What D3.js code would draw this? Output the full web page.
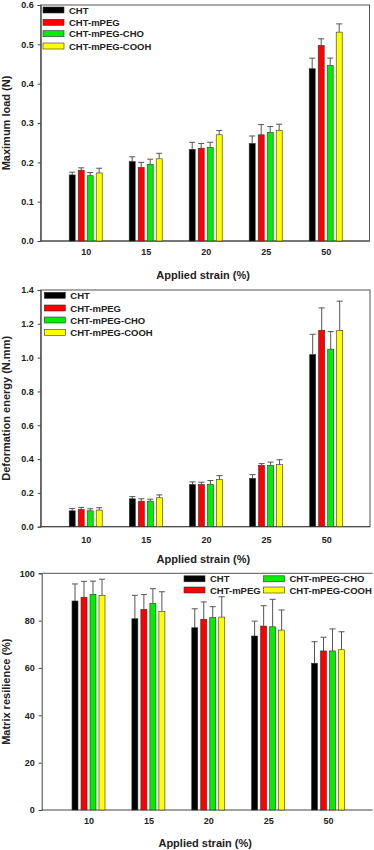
<!DOCTYPE html>
<html>
<head>
<meta charset="utf-8">
<script src="https://cdn.jsdelivr.net/npm/d3@7"></script>
<style>
body { margin: 0; background: #fff; }
svg text { font-family: "Liberation Sans", Arial, sans-serif; font-weight: bold; fill: #222; }
</style>
</head>
<body>
<div id="chart"></div>
<script>
// categories and series
var categories = ["10", "15", "20", "25", "50"];
var groups = ["CHT", "CHT-mPEG", "CHT-mPEG-CHO", "CHT-mPEG-COOH"];
var colors = ["#000000", "#ff0000", "#00ee00", "#ffff00"];

// maximum load (N): means and SD
var loadCHT = [0.168, 0.202, 0.233, 0.248, 0.438];
var loadPEG = [0.180, 0.187, 0.236, 0.270, 0.497];
var loadCHO = [0.166, 0.195, 0.238, 0.276, 0.446];
var loadCOOH = [0.173, 0.209, 0.270, 0.281, 0.531];
var loadErrCHT = [0.007, 0.012, 0.018, 0.019, 0.027];
var loadErrPEG = [0.006, 0.013, 0.012, 0.026, 0.017];
var loadErrCHO = [0.008, 0.013, 0.013, 0.015, 0.019];
var loadErrCOOH = [0.012, 0.014, 0.011, 0.016, 0.021];
var loadTicks = [0, 0.1, 0.2, 0.3, 0.4, 0.5, 0.6];

// deformation energy (N.mm)
var energyCHT = [0.094, 0.165, 0.249, 0.286, 1.018];
var energyPEG = [0.102, 0.151, 0.249, 0.363, 1.162];
var energyCHO = [0.094, 0.151, 0.251, 0.363, 1.050];
var energyCOOH = [0.098, 0.171, 0.278, 0.367, 1.160];
var energyErrCHT = [0.014, 0.013, 0.016, 0.022, 0.120];
var energyErrPEG = [0.012, 0.014, 0.014, 0.010, 0.132];
var energyErrCHO = [0.012, 0.012, 0.022, 0.019, 0.104];
var energyErrCOOH = [0.014, 0.017, 0.024, 0.029, 0.174];
var energyTicks = [0, 0.2, 0.4, 0.6, 0.8, 1.0, 1.2, 1.4];

// matrix resilience (%)
var resCHT = [88.3, 80.8, 77.0, 73.5, 62.0];
var resPEG = [89.9, 84.8, 80.6, 77.7, 67.2];
var resCHO = [91.1, 87.3, 81.3, 77.4, 67.2];
var resCOOH = [90.7, 83.9, 81.5, 76.0, 67.7];
var resErrCHT = [7.2, 9.9, 8.0, 6.3, 9.1];
var resErrPEG = [6.7, 6.2, 7.3, 8.6, 5.8];
var resErrCHO = [5.6, 6.2, 4.6, 11.6, 9.3];
var resErrCOOH = [6.8, 8.3, 8.6, 8.5, 7.6];
var resTicks = [0, 20, 40, 60, 80, 100];

var svg = d3.select("#chart")
  .append("svg")
  .attr("width", 374)
  .attr("height", 850);

function drawPanel(p) {
  var g = svg.append("g");

  var y = d3.scaleLinear()
    .domain([p.ticks[0], p.ticks[p.ticks.length - 1]])
    .range([p.bottom, p.top]);

  // centre of each strain group
  var x = d3.scalePoint()
    .domain(categories)
    .range([p.first, p.last]);

  // offset of each material inside a group
  var xg = d3.scaleBand()
    .domain(groups)
    .range([-16.5, 16.5])
    .paddingInner(1 / 3);

  // frame
  if (p.box) {
    g.append("rect")
      .attr("x", p.left).attr("y", p.top)
      .attr("width", p.right - p.left).attr("height", p.bottom - p.top)
      .attr("fill", "none").attr("stroke", "#555").attr("stroke-width", 1);
  } else {
    g.append("line")
      .attr("x1", p.left).attr("x2", p.right)
      .attr("y1", p.top).attr("y2", p.top)
      .attr("stroke", "#555");
  }
  g.append("line")
    .attr("x1", p.left).attr("x2", p.right)
    .attr("y1", p.bottom).attr("y2", p.bottom)
    .attr("stroke", "#444");

  // Y axis
  var yAxis = g.append("g")
    .attr("transform", "translate(" + p.left + ",0)")
    .call(d3.axisLeft(y).tickValues(p.ticks).tickFormat(p.fmt).tickSize(3).tickPadding(4));
  yAxis.select(".domain").attr("stroke", "#444");
  yAxis.selectAll(".tick line").attr("stroke", "#444");
  yAxis.selectAll("text").style("font-size", "9px").attr("fill", "#222");

  // X labels
  var xAxis = g.append("g")
    .attr("transform", "translate(0," + p.bottom + ")")
    .call(d3.axisBottom(x).tickSize(0).tickPadding(p.xpad));
  xAxis.select(".domain").remove();
  xAxis.selectAll("text").style("font-size", "9px").attr("fill", "#222");

  // titles
  g.append("text")
    .attr("x", (p.left + p.right) / 2 - 2)
    .attr("y", p.xtitle)
    .attr("text-anchor", "middle")
    .style("font-size", "11px")
    .text("Applied strain (%)");
  g.append("text")
    .attr("transform", "translate(10," + (p.top + p.bottom) / 2 + ") rotate(-90)")
    .attr("text-anchor", "middle")
    .style("font-size", "11px")
    .text(p.ylabel);

  // bars and error bars
  groups.forEach(function (name, i) {
    var rows = categories.map(function (c, j) {
      return { cat: c, v: p.values[i][j], e: p.errors[i][j] };
    });
    var s = g.append("g");
    s.selectAll("line.err")
      .data(rows)
      .enter()
      .append("line")
      .attr("x1", function (d) { return x(d.cat) + xg(name) + xg.bandwidth() / 2; })
      .attr("x2", function (d) { return x(d.cat) + xg(name) + xg.bandwidth() / 2; })
      .attr("y1", function (d) { return y(d.v); })
      .attr("y2", function (d) { return y(d.v + d.e); })
      .attr("stroke", "#555").attr("stroke-width", 1);
    s.selectAll("line.cap")
      .data(rows)
      .enter()
      .append("line")
      .attr("x1", function (d) { return x(d.cat) + xg(name) + xg.bandwidth() / 2 - 3; })
      .attr("x2", function (d) { return x(d.cat) + xg(name) + xg.bandwidth() / 2 + 3; })
      .attr("y1", function (d) { return y(d.v + d.e); })
      .attr("y2", function (d) { return y(d.v + d.e); })
      .attr("stroke", "#555").attr("stroke-width", 1);
    s.selectAll("rect")
      .data(rows)
      .enter()
      .append("rect")
      .attr("x", function (d) { return x(d.cat) + xg(name); })
      .attr("y", function (d) { return y(d.v); })
      .attr("width", xg.bandwidth())
      .attr("height", function (d) { return y(0) - y(d.v); })
      .attr("fill", colors[i])
      .attr("stroke", "#333").attr("stroke-width", 0.6);
  });

  // legend
  groups.forEach(function (name, i) {
    var lx = p.legend[i][0], ly = p.legend[i][1];
    g.append("rect")
      .attr("x", lx).attr("y", ly - 3)
      .attr("width", 21).attr("height", 6)
      .attr("fill", colors[i])
      .attr("stroke", "#333").attr("stroke-width", 0.6);
    g.append("text")
      .attr("x", lx + 26).attr("y", ly + 3.5)
      .style("font-size", "9.5px")
      .text(name);
  });
}

drawPanel({
  left: 40.7, right: 369.5, top: 5, bottom: 241, first: 85.7, last: 325.7,
  ticks: loadTicks, fmt: d3.format(".1f"), xpad: 8, xtitle: 279,
  ylabel: "Maximum load (N)",
  values: [loadCHT, loadPEG, loadCHO, loadCOOH],
  errors: [loadErrCHT, loadErrPEG, loadErrCHO, loadErrCOOH],
  box: true,
  legend: [[43, 10], [43, 22.3], [43, 33.7], [43, 46]]
});

drawPanel({
  left: 40.7, right: 370, top: 290, bottom: 526.7, first: 85.7, last: 326.2,
  ticks: energyTicks, fmt: d3.format(".1f"), xpad: 10, xtitle: 563,
  ylabel: "Deformation energy (N.mm)",
  values: [energyCHT, energyPEG, energyCHO, energyCOOH],
  errors: [energyErrCHT, energyErrPEG, energyErrCHO, energyErrCOOH],
  box: true,
  legend: [[44.3, 295.3], [44.3, 308], [44.3, 320], [44.3, 332.3]]
});

drawPanel({
  left: 41.7, right: 372.7, top: 573.3, bottom: 810, first: 88.5, last: 328,
  ticks: resTicks, fmt: d3.format("d"), xpad: 8, xtitle: 847,
  ylabel: "Matrix resilience (%)",
  values: [resCHT, resPEG, resCHO, resCOOH],
  errors: [resErrCHT, resErrPEG, resErrCHO, resErrCOOH],
  box: false,
  legend: [[184, 578.8], [184, 590], [263.5, 578.8], [263.5, 590]]
});
</script>
</body>
</html>
